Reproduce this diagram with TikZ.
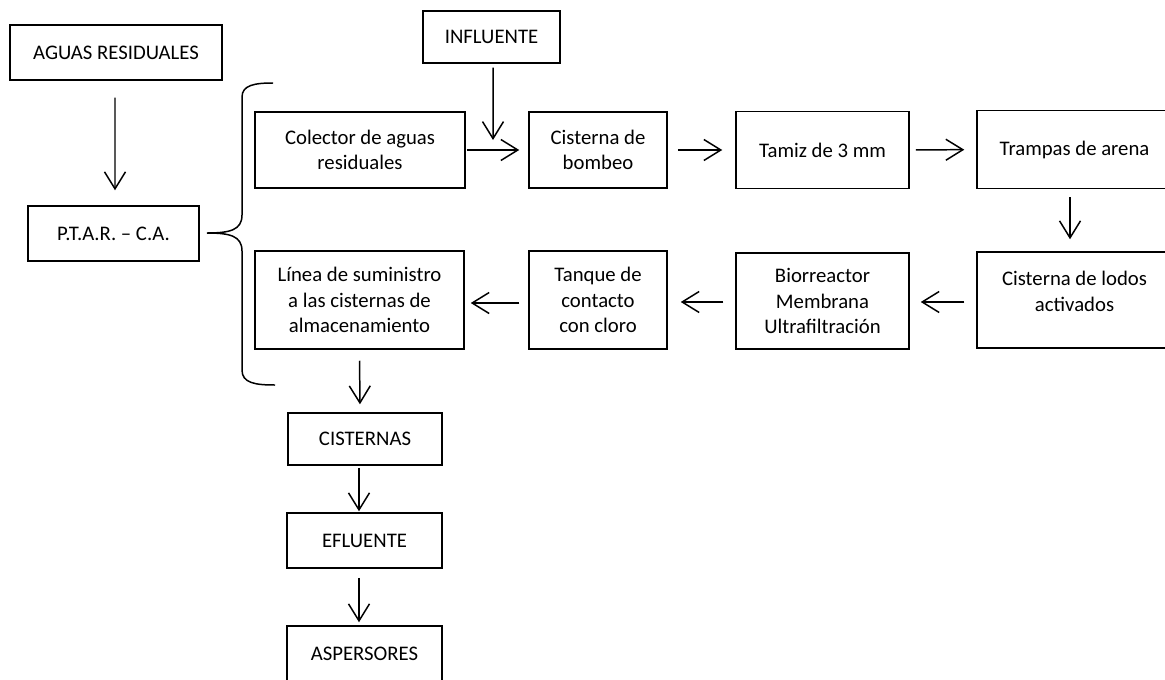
\documentclass[tikz,border=0pt]{standalone}
\usepackage{fontspec}
\setmainfont{Carlito}
\usetikzlibrary{arrows.meta}
\newlength\px
\setlength\px{0.02cm}
\tikzset{
	caja/.style = {draw = black, line width = 0.85pt, align = center, inner sep = 0pt,
		font = \fontsize{11.8}{14.5}\selectfont},
	flecha/.style = {line width = 0.85pt, -{Straight Barb[length = 0.34cm, width = 0.42cm, line width = 0.85pt]}}
}
\begin{document}
\begin{tikzpicture}[x = \px, y = -\px]
	\clip (0, 0) rectangle (1165, 679);
	% columna izquierda
	\node[caja, minimum width = 212\px, minimum height = 55\px] (aguas) at (116, 52.5) {AGUAS RESIDUALES};
	\node[caja, minimum width = 171\px, minimum height = 55\px] (ptar) at (113.5, 233.5) {P.T.A.R. -- C.A.};
	\node[caja, minimum width = 137\px, minimum height = 52\px] (influente) at (491.5, 37) {INFLUENTE};
	% fila superior
	\node[caja, minimum width = 210\px, minimum height = 76\px] (colector) at (360, 150) {Colector de aguas\\residuales};
	\node[caja, minimum width = 138\px, minimum height = 76\px] (bombeo) at (598, 150) {Cisterna de\\bombeo};
	\node[caja, minimum width = 173\px, minimum height = 77\px] (tamiz) at (822.5, 150) {Tamiz de 3 mm};
	\node[caja, minimum width = 195\px, minimum height = 78\px] (trampas) at (1074.5, 149.5) {Trampas de arena};
	% fila inferior
	\node[caja, minimum width = 195\px, minimum height = 96\px] (lodos) at (1074.5, 300) {Cisterna de lodos\\activados\\[-4.5pt]\mbox{}};
	\node[caja, minimum width = 173\px, minimum height = 96\px] (bio) at (822.5, 301) {Biorreactor\\Membrana\\Ultrafiltración};
	\node[caja, minimum width = 138\px, minimum height = 98\px] (tanque) at (598, 300) {Tanque de\\contacto\\con cloro};
	\node[caja, minimum width = 209\px, minimum height = 98\px] (linea) at (359.5, 300) {Línea de suministro\\a las cisternas de\\almacenamiento};
	% salida
	\node[caja, minimum width = 154\px, minimum height = 52\px] (cisternas) at (365, 439) {CISTERNAS};
	\node[caja, minimum width = 155\px, minimum height = 55\px] (efluente) at (364.5, 540.5) {EFLUENTE};
	\node[caja, minimum width = 155\px, minimum height = 55\px] (aspersores) at (364.5, 653.5) {ASPERSORES};
	\coordinate (entrada) at (493, 140);
	% llave
	\draw[line width = 0.85pt] (273, 83) .. controls (255, 83) and (242, 85) .. (242, 97) -- (242, 215)
		.. controls (242, 230) and (230, 233) .. (207, 233)
		.. controls (230, 233) and (242, 236) .. (242, 251) -- (242, 370)
		.. controls (242, 383) and (255, 385) .. (275, 385);
	% flechas
	\draw[flecha, shorten <=17\px, shorten >=15\px] ([xshift = -1\px]aguas.south) -- ([xshift = 1.5\px]ptar.north);
	\draw[flecha, shorten <=4\px] ([xshift = 1.5\px]influente.south) -- (entrada);
	\draw[flecha, shorten <=1\px, shorten >=9\px] (colector) -- (bombeo);
	\draw[flecha, shorten <=10\px, shorten >=13\px] (bombeo) -- (tamiz);
	\draw[flecha, shorten <=6\px, shorten >=12\px] (tamiz) -- (trampas);
	\draw[flecha, shorten <=8\px, shorten >=12\px] ([xshift = -4.5\px]trampas.south) -- ([xshift = -4.5\px]lodos.north);
	\draw[flecha, shorten <=12\px, shorten >=11\px] ([yshift = -2\px]lodos.west) -- ([yshift = -1\px]bio.east);
	\draw[flecha, shorten <=12\px, shorten >=13\px] ([yshift = -1\px]bio.west) -- ([yshift = -2\px]tanque.east);
	\draw[flecha, shorten <=9\px, shorten >=6\px] ([yshift = -3\px]tanque.west) -- ([yshift = -3\px]linea.east);
	\draw[flecha, shorten <=11\px, shorten >=8\px] (linea.south) -- ([xshift = -5\px]cisternas.north);
	\draw[flecha, shorten <=2\px, shorten >=1\px] ([xshift = -6\px]cisternas.south) -- ([xshift = -5.5\px]efluente.north);
	\draw[flecha, shorten <=9\px, shorten >=3\px] ([xshift = -5.5\px]efluente.south) -- ([xshift = -5.5\px]aspersores.north);
\end{tikzpicture}
\end{document}
